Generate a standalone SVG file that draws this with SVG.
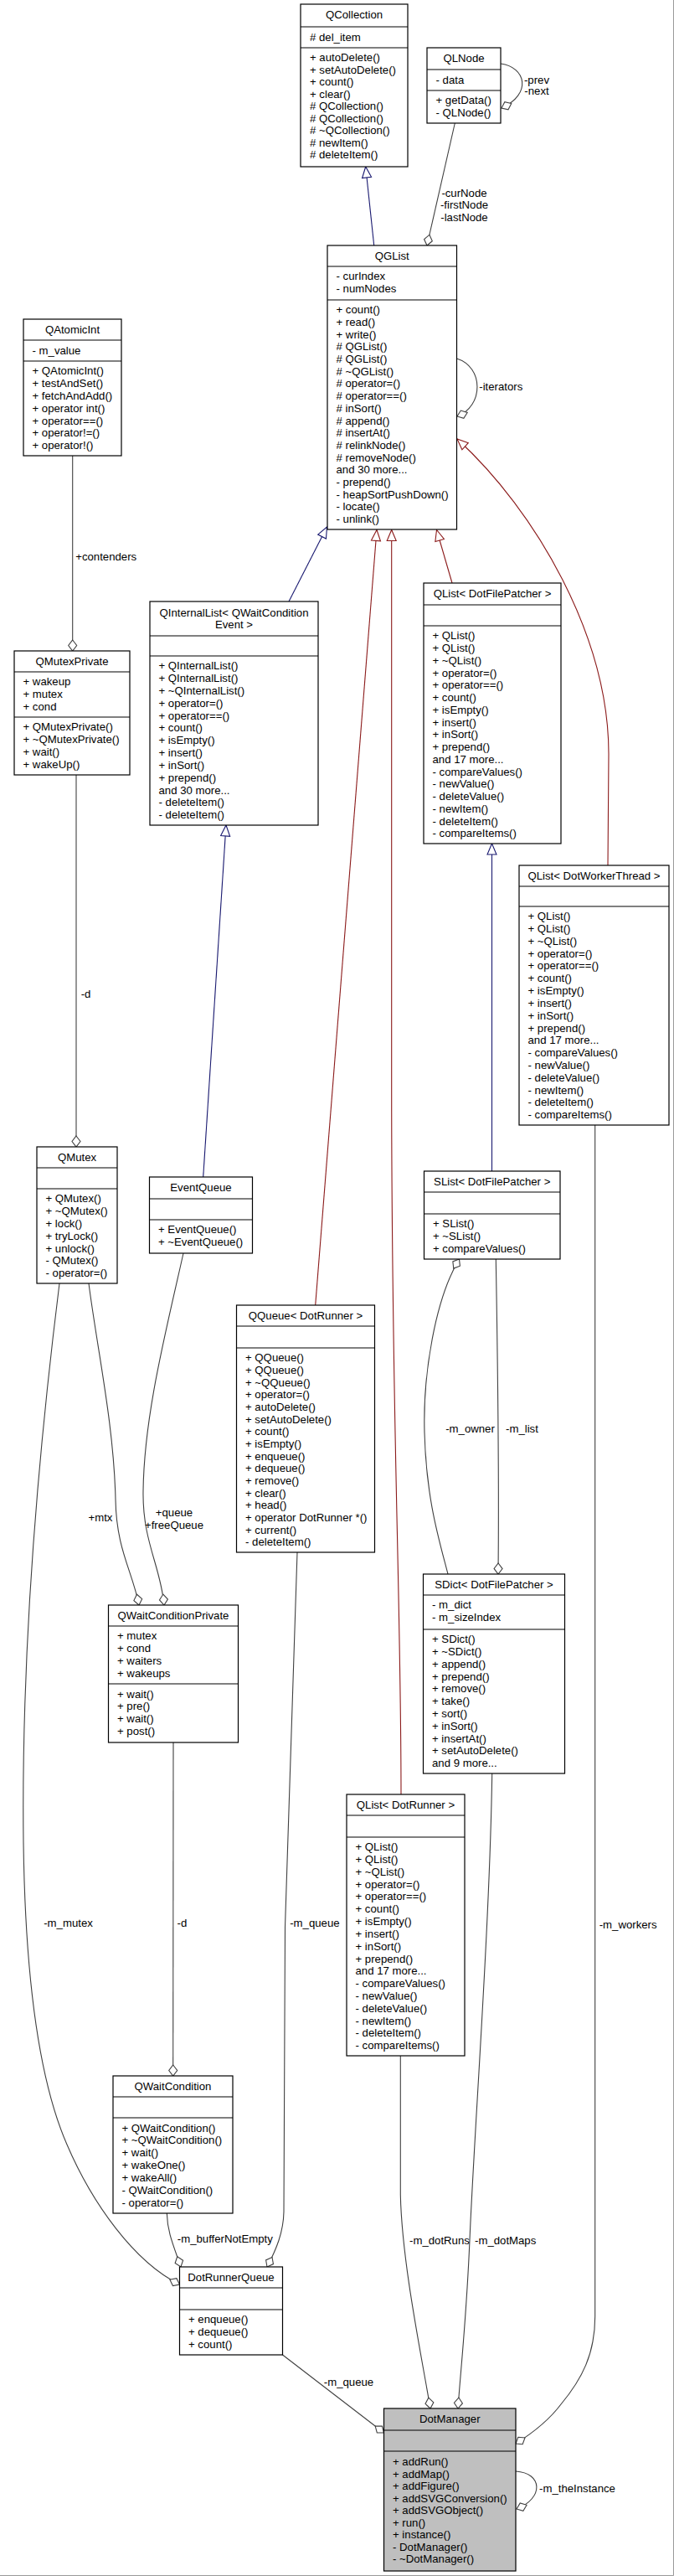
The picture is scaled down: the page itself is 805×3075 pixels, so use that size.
<svg xmlns="http://www.w3.org/2000/svg" width="805" height="3075" viewBox="0 0 805 3075">
<style>
text{font-family:"Liberation Sans",Arial,Helvetica,sans-serif;font-size:13.2px;fill:#000}
.c{text-anchor:middle}
.box{fill:#fff;stroke:#000;stroke-width:1.2}
.dm{fill:#bfbfbf}
.sep{fill:none;stroke:#000;stroke-width:1.2}
.pub{fill:none;stroke:#191970;stroke-width:1.1}
.pri{fill:none;stroke:#8b1a1a;stroke-width:1.1}
.agg{fill:none;stroke:#404040;stroke-width:1.1}
</style>
<defs>
<marker id="tb" markerUnits="userSpaceOnUse" markerWidth="16" markerHeight="14" refX="14" refY="7" orient="auto" overflow="visible"><path d="M1,1.5L14,7L1,12.5Z" fill="#fff" stroke="#191970" stroke-width="1.1"/></marker>
<marker id="tr" markerUnits="userSpaceOnUse" markerWidth="16" markerHeight="14" refX="14" refY="7" orient="auto" overflow="visible"><path d="M1,1.5L14,7L1,12.5Z" fill="#fff" stroke="#8b1a1a" stroke-width="1.1"/></marker>
<marker id="dg" markerUnits="userSpaceOnUse" markerWidth="16" markerHeight="14" refX="14" refY="7" orient="auto" overflow="visible"><path d="M1,7L7.5,2L14,7L7.5,12Z" fill="#fff" stroke="#404040" stroke-width="1.1"/></marker>
</defs>
<rect x="0" y="0" width="805" height="3075" fill="#fff"/>
<path d="M804.5,0V3074.5H0" fill="none" stroke="#9a9a9a" stroke-width="1"/>

<g id="connectors">
<!-- generalizations -->
<path class="pub" marker-end="url(#tb)" d="M446.7,293L436.7,199"/>
<path class="pub" marker-end="url(#tb)" d="M345,718L390.5,629"/>
<path class="pri" marker-end="url(#tr)" d="M540,696L521.5,632.5"/>
<path class="pri" marker-end="url(#tr)" d="M726,1033L727,900C727,760 640,610 546,524"/>
<path class="pri" marker-end="url(#tr)" d="M376.7,1558L450,632.5"/>
<path class="pri" marker-end="url(#tr)" d="M479,2142C479,1900 467.7,1700 467.7,1300L467.7,632.5"/>
<path class="pub" marker-end="url(#tb)" d="M587.5,1398L587.5,1007"/>
<path class="pub" marker-end="url(#tb)" d="M242.7,1405L270,985"/>
<!-- aggregations -->
<path class="agg" marker-end="url(#dg)" d="M543.3,147L510,293"/>
<path class="agg" marker-end="url(#dg)" d="M598,76C628,80 636,112 599,129"/>
<path class="agg" marker-end="url(#dg)" d="M545.5,428C578,438 578,485 546,497"/>
<path class="agg" marker-end="url(#dg)" d="M86.7,544L86.7,777"/>
<path class="agg" marker-end="url(#dg)" d="M91,925L91,1369"/>
<path class="agg" marker-end="url(#dg)" d="M106,1532C116,1610 136,1700 138,1790C139,1850 158,1875 166,1916"/>
<path class="agg" marker-end="url(#dg)" d="M219,1496C198,1590 172,1690 171,1780C170,1840 192,1870 196,1916"/>
<path class="agg" marker-end="url(#dg)" d="M71,1532C50,1700 25,1950 28,2200C30,2350 45,2480 80,2560C110,2630 160,2700 214.5,2727"/>
<path class="agg" marker-end="url(#dg)" d="M207,2080L206.7,2478"/>
<path class="agg" marker-end="url(#dg)" d="M199.3,2642C200,2665 207,2680 216,2706"/>
<path class="agg" marker-end="url(#dg)" d="M355,1853L340.5,2300L339,2640C338.5,2665 330,2685 319,2706"/>
<path class="agg" marker-end="url(#dg)" d="M535,1879C525,1840 509,1790 507,1710C505,1640 520,1550 548.5,1503"/>
<path class="agg" marker-end="url(#dg)" d="M592.3,1503C594,1600 596,1780 595,1879"/>
<path class="agg" marker-end="url(#dg)" d="M587.7,2117C585,2300 566,2550 561,2674C557,2770 550,2830 547,2875"/>
<path class="agg" marker-end="url(#dg)" d="M478.3,2454L478.3,2620C480,2700 503,2810 514,2875"/>
<path class="agg" marker-end="url(#dg)" d="M710.7,1343L710.7,2765C710.7,2810 695,2840 670,2870C655,2890 635,2905 616,2917"/>
<path class="agg" marker-end="url(#dg)" d="M337.5,2811L458.5,2904"/>
<path class="agg" marker-end="url(#dg)" d="M616,2950C648,2952 650,2982 617,2995"/>
<!-- labels -->
<text class="c" x="554.5" y="234.7">-curNode</text>
<text class="c" x="554.5" y="249.4">-firstNode</text>
<text class="c" x="554.5" y="263.7">-lastNode</text>
<text class="c" x="641" y="99.7">-prev</text>
<text class="c" x="641" y="113">-next</text>
<text class="c" x="598.3" y="466.4">-iterators</text>
<text class="c" x="126.7" y="668.7">+contenders</text>
<text x="96.7" y="1191.4">-d</text>
<text class="c" x="120" y="1816">+mtx</text>
<text class="c" x="208" y="1810">+queue</text>
<text class="c" x="208" y="1824.5">+freeQueue</text>
<text class="c" x="561.5" y="1709.7">-m_owner</text>
<text x="604" y="1709.7">-m_list</text>
<text class="c" x="81.5" y="2299.7">-m_mutex</text>
<text x="211.5" y="2299.7">-d</text>
<text x="346.2" y="2299.7">-m_queue</text>
<text x="715.7" y="2301.6">-m_workers</text>
<text x="489" y="2679.2">-m_dotRuns</text>
<text x="567" y="2679.2">-m_dotMaps</text>
<text class="c" x="268.8" y="2677.4">-m_bufferNotEmpty</text>
<text class="c" x="416.5" y="2848">-m_queue</text>
<text x="644" y="2975.4">-m_theInstance</text>
</g>

<g id="n-qcollection">
<rect class="box" x="359" y="5" width="128" height="194"/>
<path class="sep" d="M359,32H487M359,57H487"/>
<text class="c" x="423" y="22">QCollection</text>
<text x="370" y="49"># del_item</text>
<text><tspan x="370" y="73.2">+ autoDelete()</tspan><tspan x="370" y="87.7">+ setAutoDelete()</tspan><tspan x="370" y="102.2">+ count()</tspan><tspan x="370" y="116.7">+ clear()</tspan><tspan x="370" y="131.2"># QCollection()</tspan><tspan x="370" y="145.7"># QCollection()</tspan><tspan x="370" y="160.2"># ~QCollection()</tspan><tspan x="370" y="174.7"># newItem()</tspan><tspan x="370" y="189.2"># deleteItem()</tspan></text>
</g>

<g id="n-qlnode">
<rect class="box" x="510" y="57" width="88" height="90"/>
<path class="sep" d="M510,83H598M510,108H598"/>
<text class="c" x="554" y="74">QLNode</text>
<text x="520.5" y="99.7">- data</text>
<text><tspan x="520.5" y="124.2">+ getData()</tspan><tspan x="520.5" y="139">- QLNode()</tspan></text>
</g>

<g id="n-qglist">
<rect class="box" x="391" y="293" width="154.5" height="339"/>
<path class="sep" d="M391,318H545.5M391,358H545.5"/>
<text class="c" x="468.25" y="310">QGList</text>
<text><tspan x="401.5" y="334.2">- curIndex</tspan><tspan x="401.5" y="349">- numNodes</tspan></text>
<text><tspan x="401.5" y="374.2">+ count()</tspan><tspan x="401.5" y="388.9">+ read()</tspan><tspan x="401.5" y="403.6">+ write()</tspan><tspan x="401.5" y="418.3"># QGList()</tspan><tspan x="401.5" y="433"># QGList()</tspan><tspan x="401.5" y="447.7"># ~QGList()</tspan><tspan x="401.5" y="462.4"># operator=()</tspan><tspan x="401.5" y="477.1"># operator==()</tspan><tspan x="401.5" y="491.8"># inSort()</tspan><tspan x="401.5" y="506.5"># append()</tspan><tspan x="401.5" y="521.2"># insertAt()</tspan><tspan x="401.5" y="535.9"># relinkNode()</tspan><tspan x="401.5" y="550.6"># removeNode()</tspan><tspan x="401.5" y="565.3">and 30 more...</tspan><tspan x="401.5" y="580">- prepend()</tspan><tspan x="401.5" y="594.7">- heapSortPushDown()</tspan><tspan x="401.5" y="609.4">- locate()</tspan><tspan x="401.5" y="624.1">- unlink()</tspan></text>
</g>

<g id="n-qatomicint">
<rect class="box" x="28" y="381" width="117" height="163"/>
<path class="sep" d="M28,406H145M28,431H145"/>
<text class="c" x="86.5" y="398">QAtomicInt</text>
<text x="38.5" y="422.5">- m_value</text>
<text><tspan x="38.5" y="447.2">+ QAtomicInt()</tspan><tspan x="38.5" y="462">+ testAndSet()</tspan><tspan x="38.5" y="476.9">+ fetchAndAdd()</tspan><tspan x="38.5" y="491.7">+ operator int()</tspan><tspan x="38.5" y="506.5">+ operator==()</tspan><tspan x="38.5" y="521.4">+ operator!=()</tspan><tspan x="38.5" y="536.2">+ operator!()</tspan></text>
</g>

<g id="n-qmutexprivate">
<rect class="box" x="17" y="777" width="138" height="148"/>
<path class="sep" d="M17,802H155M17,856H155"/>
<text class="c" x="86" y="794">QMutexPrivate</text>
<text><tspan x="27.5" y="818.2">+ wakeup</tspan><tspan x="27.5" y="833.2">+ mutex</tspan><tspan x="27.5" y="848.2">+ cond</tspan></text>
<text><tspan x="27.5" y="872.2">+ QMutexPrivate()</tspan><tspan x="27.5" y="887.2">+ ~QMutexPrivate()</tspan><tspan x="27.5" y="902.2">+ wait()</tspan><tspan x="27.5" y="917.2">+ wakeUp()</tspan></text>
</g>

<g id="n-qinternallist">
<rect class="box" x="179" y="718" width="201" height="267"/>
<path class="sep" d="M179,759H380M179,783H380"/>
<text class="c"><tspan x="279.5" y="735.5">QInternalList&lt; QWaitCondition</tspan><tspan x="279.5" y="750">Event &gt;</tspan></text>
<text><tspan x="189.5" y="799.2">+ QInternalList()</tspan><tspan x="189.5" y="814">+ QInternalList()</tspan><tspan x="189.5" y="828.9">+ ~QInternalList()</tspan><tspan x="189.5" y="843.7">+ operator=()</tspan><tspan x="189.5" y="858.5">+ operator==()</tspan><tspan x="189.5" y="873.4">+ count()</tspan><tspan x="189.5" y="888.2">+ isEmpty()</tspan><tspan x="189.5" y="903">+ insert()</tspan><tspan x="189.5" y="917.8">+ inSort()</tspan><tspan x="189.5" y="932.7">+ prepend()</tspan><tspan x="189.5" y="947.5">and 30 more...</tspan><tspan x="189.5" y="962.3">- deleteItem()</tspan><tspan x="189.5" y="977.2">- deleteItem()</tspan></text>
</g>

<g id="n-qlist-dotfilepatcher">
<rect class="box" x="506" y="696" width="164" height="311"/>
<path class="sep" d="M506,722H670M506,747H670"/>
<text class="c" x="588" y="713">QList&lt; DotFilePatcher &gt;</text>
<text><tspan x="516.5" y="763.2">+ QList()</tspan><tspan x="516.5" y="778">+ QList()</tspan><tspan x="516.5" y="792.7">+ ~QList()</tspan><tspan x="516.5" y="807.5">+ operator=()</tspan><tspan x="516.5" y="822.2">+ operator==()</tspan><tspan x="516.5" y="837">+ count()</tspan><tspan x="516.5" y="851.7">+ isEmpty()</tspan><tspan x="516.5" y="866.5">+ insert()</tspan><tspan x="516.5" y="881.2">+ inSort()</tspan><tspan x="516.5" y="896">+ prepend()</tspan><tspan x="516.5" y="910.7">and 17 more...</tspan><tspan x="516.5" y="925.5">- compareValues()</tspan><tspan x="516.5" y="940.2">- newValue()</tspan><tspan x="516.5" y="955">- deleteValue()</tspan><tspan x="516.5" y="969.7">- newItem()</tspan><tspan x="516.5" y="984.5">- deleteItem()</tspan><tspan x="516.5" y="999.2">- compareItems()</tspan></text>
</g>

<g id="n-qlist-dotworkerthread">
<rect class="box" x="620" y="1033" width="179" height="310"/>
<path class="sep" d="M620,1058H799M620,1082H799"/>
<text class="c" x="709.5" y="1050">QList&lt; DotWorkerThread &gt;</text>
<text><tspan x="630.5" y="1098.2">+ QList()</tspan><tspan x="630.5" y="1113">+ QList()</tspan><tspan x="630.5" y="1127.8">+ ~QList()</tspan><tspan x="630.5" y="1142.6">+ operator=()</tspan><tspan x="630.5" y="1157.4">+ operator==()</tspan><tspan x="630.5" y="1172.3">+ count()</tspan><tspan x="630.5" y="1187.1">+ isEmpty()</tspan><tspan x="630.5" y="1201.9">+ insert()</tspan><tspan x="630.5" y="1216.7">+ inSort()</tspan><tspan x="630.5" y="1231.5">+ prepend()</tspan><tspan x="630.5" y="1246.3">and 17 more...</tspan><tspan x="630.5" y="1261.1">- compareValues()</tspan><tspan x="630.5" y="1275.9">- newValue()</tspan><tspan x="630.5" y="1290.7">- deleteValue()</tspan><tspan x="630.5" y="1305.5">- newItem()</tspan><tspan x="630.5" y="1320.4">- deleteItem()</tspan><tspan x="630.5" y="1335.2">- compareItems()</tspan></text>
</g>

<g id="n-qmutex">
<rect class="box" x="44" y="1369" width="96" height="163"/>
<path class="sep" d="M44,1394H140M44,1419H140"/>
<text class="c" x="92" y="1386">QMutex</text>
<text><tspan x="54.5" y="1435.2">+ QMutex()</tspan><tspan x="54.5" y="1450">+ ~QMutex()</tspan><tspan x="54.5" y="1464.9">+ lock()</tspan><tspan x="54.5" y="1479.7">+ tryLock()</tspan><tspan x="54.5" y="1494.5">+ unlock()</tspan><tspan x="54.5" y="1509.4">- QMutex()</tspan><tspan x="54.5" y="1524.2">- operator=()</tspan></text>
</g>

<g id="n-eventqueue">
<rect class="box" x="178.5" y="1405" width="123" height="91"/>
<path class="sep" d="M178.5,1431H301.5M178.5,1456H301.5"/>
<text class="c" x="240" y="1422">EventQueue</text>
<text><tspan x="189" y="1472.2">+ EventQueue()</tspan><tspan x="189" y="1487">+ ~EventQueue()</tspan></text>
</g>

<g id="n-slist-dotfilepatcher">
<rect class="box" x="506.5" y="1398" width="162.5" height="105"/>
<path class="sep" d="M506.5,1423H669M506.5,1449H669"/>
<text class="c" x="587.75" y="1415">SList&lt; DotFilePatcher &gt;</text>
<text><tspan x="517" y="1465.2">+ SList()</tspan><tspan x="517" y="1480.2">+ ~SList()</tspan><tspan x="517" y="1495.2">+ compareValues()</tspan></text>
</g>

<g id="n-qqueue-dotrunner">
<rect class="box" x="282.5" y="1558" width="165" height="295"/>
<path class="sep" d="M282.5,1583H447.5M282.5,1609H447.5"/>
<text class="c" x="365" y="1575">QQueue&lt; DotRunner &gt;</text>
<text><tspan x="293" y="1625.2">+ QQueue()</tspan><tspan x="293" y="1639.9">+ QQueue()</tspan><tspan x="293" y="1654.5">+ ~QQueue()</tspan><tspan x="293" y="1669.2">+ operator=()</tspan><tspan x="293" y="1683.9">+ autoDelete()</tspan><tspan x="293" y="1698.6">+ setAutoDelete()</tspan><tspan x="293" y="1713.2">+ count()</tspan><tspan x="293" y="1727.9">+ isEmpty()</tspan><tspan x="293" y="1742.6">+ enqueue()</tspan><tspan x="293" y="1757.2">+ dequeue()</tspan><tspan x="293" y="1771.9">+ remove()</tspan><tspan x="293" y="1786.6">+ clear()</tspan><tspan x="293" y="1801.2">+ head()</tspan><tspan x="293" y="1815.9">+ operator DotRunner *()</tspan><tspan x="293" y="1830.6">+ current()</tspan><tspan x="293" y="1845.2">- deleteItem()</tspan></text>
</g>

<g id="n-sdict-dotfilepatcher">
<rect class="box" x="505.5" y="1879" width="169" height="238"/>
<path class="sep" d="M505.5,1904H674.5M505.5,1945H674.5"/>
<text class="c" x="590" y="1896">SDict&lt; DotFilePatcher &gt;</text>
<text><tspan x="516" y="1920.4">- m_dict</tspan><tspan x="516" y="1935.2">- m_sizeIndex</tspan></text>
<text><tspan x="516" y="1961.2">+ SDict()</tspan><tspan x="516" y="1976">+ ~SDict()</tspan><tspan x="516" y="1990.8">+ append()</tspan><tspan x="516" y="2005.6">+ prepend()</tspan><tspan x="516" y="2020.4">+ remove()</tspan><tspan x="516" y="2035.2">+ take()</tspan><tspan x="516" y="2050">+ sort()</tspan><tspan x="516" y="2064.8">+ inSort()</tspan><tspan x="516" y="2079.6">+ insertAt()</tspan><tspan x="516" y="2094.4">+ setAutoDelete()</tspan><tspan x="516" y="2109.2">and 9 more...</tspan></text>
</g>

<g id="n-qwaitconditionprivate">
<rect class="box" x="129.5" y="1916" width="155" height="164"/>
<path class="sep" d="M129.5,1941H284.5M129.5,2010H284.5"/>
<text class="c" x="207" y="1933">QWaitConditionPrivate</text>
<text><tspan x="140" y="1957.4">+ mutex</tspan><tspan x="140" y="1972.2">+ cond</tspan><tspan x="140" y="1987">+ waiters</tspan><tspan x="140" y="2001.8">+ wakeups</tspan></text>
<text><tspan x="140" y="2026.6">+ wait()</tspan><tspan x="140" y="2041.4">+ pre()</tspan><tspan x="140" y="2056.2">+ wait()</tspan><tspan x="140" y="2071">+ post()</tspan></text>
</g>

<g id="n-qlist-dotrunner">
<rect class="box" x="414" y="2142" width="141" height="312"/>
<path class="sep" d="M414,2167H555M414,2193H555"/>
<text class="c" x="484.5" y="2159">QList&lt; DotRunner &gt;</text>
<text><tspan x="424.5" y="2209.2">+ QList()</tspan><tspan x="424.5" y="2224">+ QList()</tspan><tspan x="424.5" y="2238.8">+ ~QList()</tspan><tspan x="424.5" y="2253.6">+ operator=()</tspan><tspan x="424.5" y="2268.4">+ operator==()</tspan><tspan x="424.5" y="2283.3">+ count()</tspan><tspan x="424.5" y="2298.1">+ isEmpty()</tspan><tspan x="424.5" y="2312.9">+ insert()</tspan><tspan x="424.5" y="2327.7">+ inSort()</tspan><tspan x="424.5" y="2342.5">+ prepend()</tspan><tspan x="424.5" y="2357.3">and 17 more...</tspan><tspan x="424.5" y="2372.1">- compareValues()</tspan><tspan x="424.5" y="2386.9">- newValue()</tspan><tspan x="424.5" y="2401.7">- deleteValue()</tspan><tspan x="424.5" y="2416.5">- newItem()</tspan><tspan x="424.5" y="2431.4">- deleteItem()</tspan><tspan x="424.5" y="2446.2">- compareItems()</tspan></text>
</g>

<g id="n-qwaitcondition">
<rect class="box" x="135" y="2478" width="143" height="164"/>
<path class="sep" d="M135,2503H278M135,2528H278"/>
<text class="c" x="206.5" y="2495">QWaitCondition</text>
<text><tspan x="145.5" y="2544.5">+ QWaitCondition()</tspan><tspan x="145.5" y="2559.4">+ ~QWaitCondition()</tspan><tspan x="145.5" y="2574.3">+ wait()</tspan><tspan x="145.5" y="2589.2">+ wakeOne()</tspan><tspan x="145.5" y="2604.1">+ wakeAll()</tspan><tspan x="145.5" y="2619">- QWaitCondition()</tspan><tspan x="145.5" y="2633.9">- operator=()</tspan></text>
</g>

<g id="n-dotrunnerqueue">
<rect class="box" x="214.5" y="2706" width="123" height="105"/>
<path class="sep" d="M214.5,2731H337.5M214.5,2757H337.5"/>
<text class="c" x="276" y="2723">DotRunnerQueue</text>
<text><tspan x="225" y="2773">+ enqueue()</tspan><tspan x="225" y="2787.8">+ dequeue()</tspan><tspan x="225" y="2802.6">+ count()</tspan></text>
</g>

<g id="n-dotmanager">
<rect class="box dm" x="458.5" y="2875" width="157.5" height="194"/>
<path class="sep" d="M458.5,2901H616M458.5,2926H616"/>
<text class="c" x="537.25" y="2892">DotManager</text>
<text><tspan x="469" y="2943">+ addRun()</tspan><tspan x="469" y="2957.5">+ addMap()</tspan><tspan x="469" y="2972">+ addFigure()</tspan><tspan x="469" y="2986.5">+ addSVGConversion()</tspan><tspan x="469" y="3001">+ addSVGObject()</tspan><tspan x="469" y="3015.5">+ run()</tspan><tspan x="469" y="3030">+ instance()</tspan><tspan x="469" y="3044.5">- DotManager()</tspan><tspan x="469" y="3059">- ~DotManager()</tspan></text>
</g>
</svg>
